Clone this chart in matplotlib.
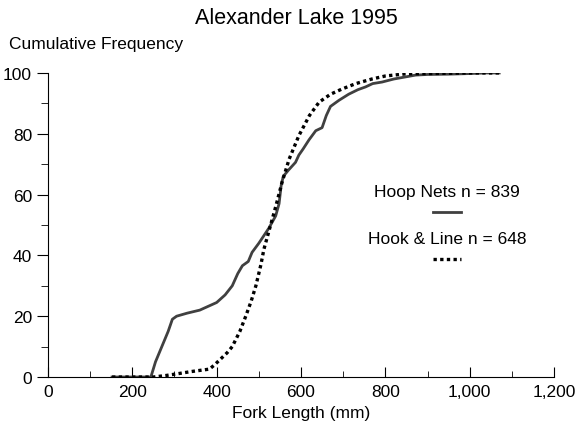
import matplotlib
matplotlib.use("Agg")
import matplotlib.pyplot as plt
from matplotlib.ticker import MultipleLocator, FuncFormatter

plt.rcParams['font.family'] = ['Liberation Sans', 'DejaVu Sans']

# Hoop nets (solid)
hoop_x = [152, 244, 255, 270, 285, 295, 305, 330, 360, 400, 420, 437, 450, 461,
          475, 484, 500, 524, 540, 548, 553, 558, 570, 587, 595, 605, 619, 635,
          650, 660, 670, 690, 713, 735, 753, 770, 792, 820, 848, 872, 900, 950,
          1000, 1040, 1070]
hoop_y = [0, 0, 5, 10, 15, 19, 20, 21, 22, 24.5, 27, 30, 34, 36.6,
          38, 41, 44, 49, 53, 57, 63, 66, 68, 70.6, 73, 75, 78, 81,
          82, 86, 89, 91, 93, 94.5, 95.4, 96.5, 97, 98, 98.7, 99.3, 99.5, 99.6,
          99.8, 100, 100]

# Hook & line (dotted)
hook_x = [152, 250, 280, 304, 340, 383, 395, 410, 425, 437, 455, 469, 482, 493,
          505, 512, 524, 540, 555, 572, 595, 620, 643, 670, 697, 730, 768, 800,
          848, 900, 1000, 1070]
hook_y = [0, 0, 0.5, 1, 1.8, 2.6, 4, 6, 8, 10, 15, 20, 25, 30,
          37, 42, 48, 56, 64, 71.7, 79.4, 86, 90.4, 93, 94.7, 96.5, 98, 99,
          99.7, 99.8, 100, 100]

fig = plt.figure(figsize=(5.78, 4.35), dpi=100)
ax = fig.add_axes([0.083, 0.131, 0.8755, 0.699])

ax.plot(hoop_x, hoop_y, color='#404040', lw=2)
ax.plot(hook_x, hook_y, color='black', lw=2.4, linestyle=(0, (1, 1)))

ax.set_xlim(0, 1200)
ax.set_ylim(0, 100)
ax.spines['top'].set_visible(False)
ax.spines['right'].set_visible(False)

ax.xaxis.set_major_locator(MultipleLocator(200))
ax.xaxis.set_minor_locator(MultipleLocator(100))
ax.yaxis.set_major_locator(MultipleLocator(20))
ax.yaxis.set_minor_locator(MultipleLocator(10))
ax.xaxis.set_major_formatter(FuncFormatter(lambda v, p: f'{int(v):,}'))
ax.tick_params(axis='x', which='major', direction='in', length=7, labelsize=12.5, pad=5)
ax.tick_params(axis='x', which='minor', direction='in', length=4)
ax.tick_params(axis='y', which='major', direction='out', length=8, labelsize=12.5)
ax.tick_params(axis='y', which='minor', direction='out', length=5)
ax.set_xlabel('Fork Length (mm)', fontsize=12.5, labelpad=4)

fig.text(0.512, 0.958, 'Alexander Lake 1995', ha='center', va='center', fontsize=15.5)
fig.text(0.015, 0.897, 'Cumulative Frequency', ha='left', va='center', fontsize=12.5)

# legend as centered text with line samples
ax.text(946, 60.9, 'Hoop Nets n = 839', ha='center', va='center', fontsize=12.5)
ax.plot([913, 979], [54.3, 54.3], color='#404040', lw=2)
ax.text(946, 45.4, 'Hook & Line n = 648', ha='center', va='center', fontsize=12.5)
ax.plot([913, 979], [38.8, 38.8], color='black', lw=2.4, linestyle=(0, (1, 1)))

fig.savefig('out.png', dpi=100)
